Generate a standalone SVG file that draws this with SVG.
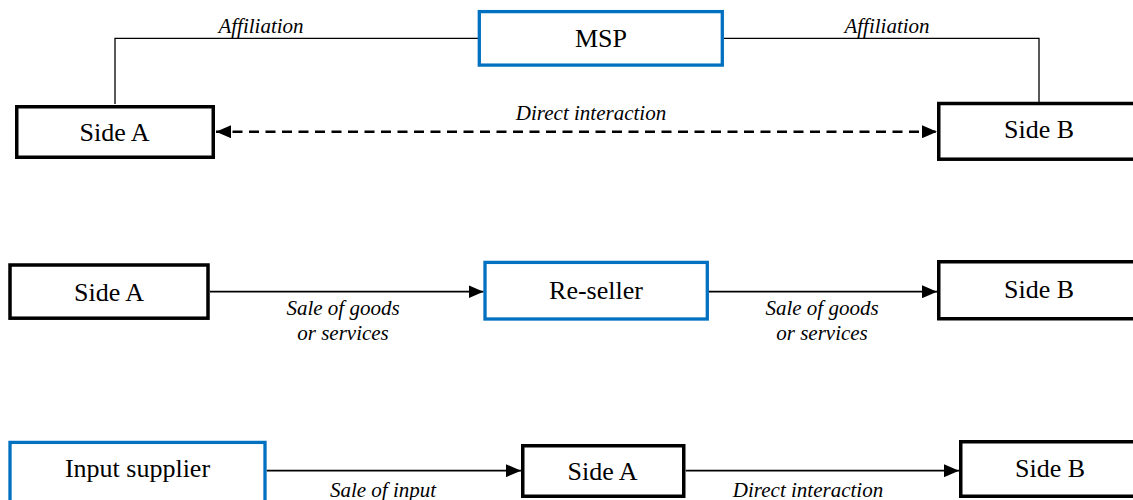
<svg xmlns="http://www.w3.org/2000/svg" width="1133" height="500" viewBox="0 0 1133 500">
<style>
.box{fill:#fff;stroke:#000;stroke-width:3.5}
.blue{fill:#fff;stroke:#0070C0;stroke-width:3.3}
.lbl{font-family:"Liberation Serif","Times New Roman",serif;font-size:26px;fill:#000;text-anchor:middle}
.edge{font-family:"Liberation Serif","Times New Roman",serif;font-size:21px;font-style:italic;fill:#000;text-anchor:middle}
.line{fill:none;stroke:#000;stroke-width:1.3}
.arrow{fill:none;stroke:#000;stroke-width:1.8;marker-end:url(#ah)}
.dash{fill:none;stroke:#000;stroke-width:2.5;stroke-dasharray:10 6.5;marker-start:url(#ah);marker-end:url(#ah)}
</style>
<defs>
<marker id="ah" viewBox="0 0 10 10" refX="10" refY="5" markerUnits="userSpaceOnUse" markerWidth="15" markerHeight="13" orient="auto-start-reverse" preserveAspectRatio="none">
<path d="M0,0 L10,5 L0,10 z" fill="#000"/>
</marker>
</defs>
<rect width="1133" height="500" fill="#fff"/>
<g id="connectors">
<path class="line" d="M115 104 V38.3 H478"/>
<path class="line" d="M724 38.3 H1039 V102"/>
<path class="dash" d="M216 131.7 H937"/>
<path class="arrow" d="M210 291.7 H483.5"/>
<path class="arrow" d="M709 291.7 H937"/>
<path class="arrow" d="M266.7 470.7 H521"/>
<path class="arrow" d="M685.7 470.7 H959"/>
<text class="edge" x="261" y="32.5">Affiliation</text>
<text class="edge" x="887" y="32.5">Affiliation</text>
<text class="edge" x="591" y="120">Direct interaction</text>
<text class="edge" x="343" y="315">Sale of goods</text>
<text class="edge" x="343" y="340">or services</text>
<text class="edge" x="822" y="315">Sale of goods</text>
<text class="edge" x="822" y="340">or services</text>
<text class="edge" x="383" y="497">Sale of input</text>
<text class="edge" x="808" y="497">Direct interaction</text>
</g>
<g id="msp"><rect class="blue" x="479.3" y="11.6" width="243" height="53.5"/><text class="lbl" x="601" y="46.7">MSP</text></g>
<g id="sideA1"><rect class="box" x="16.75" y="106.75" width="196.5" height="50.5"/><text class="lbl" x="114.5" y="140.7">Side A</text></g>
<g id="sideB1"><rect class="box" x="938.75" y="103.5" width="200" height="55.7"/><text class="lbl" x="1039" y="138">Side B</text></g>
<g id="sideA2"><rect class="box" x="10" y="265" width="198" height="53.2"/><text class="lbl" x="109" y="300.7">Side A</text></g>
<g id="reseller"><rect class="blue" x="485" y="262.4" width="222.3" height="56.6"/><text class="lbl" x="596" y="299">Re-seller</text></g>
<g id="sideB2"><rect class="box" x="938.75" y="261.75" width="200" height="57"/><text class="lbl" x="1039" y="298">Side B</text></g>
<g id="inputSupplier"><rect class="blue" x="10" y="442.4" width="255" height="70"/><text class="lbl" x="137.5" y="477">Input supplier</text></g>
<g id="sideA3"><rect class="box" x="522.75" y="445.75" width="161" height="50.5"/><text class="lbl" x="602.5" y="480">Side A</text></g>
<g id="sideB3"><rect class="box" x="960.75" y="441.75" width="180" height="54.5"/><text class="lbl" x="1050" y="477">Side B</text></g>
</svg>
